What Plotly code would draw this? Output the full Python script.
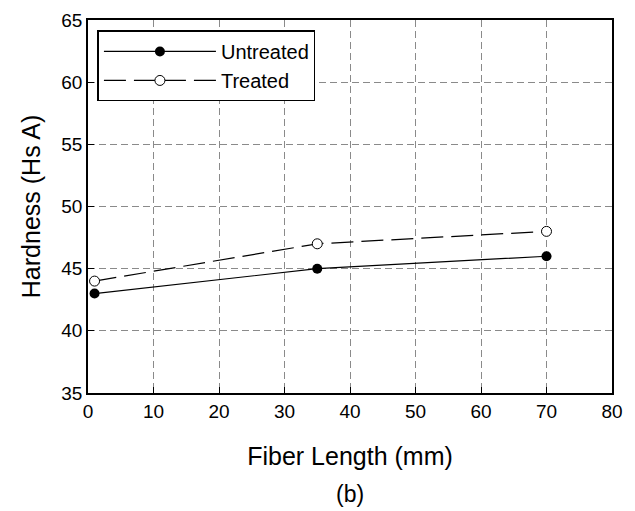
import plotly.graph_objects as go

fiber_length = [1, 35, 70]
untreated = [43, 45, 46]
treated = [44, 47, 48]
x_ticks = [0, 10, 20, 30, 40, 50, 60, 70, 80]
y_ticks = [35, 40, 45, 50, 55, 60, 65]

FONT = "Liberation Sans, Arial"

fig = go.Figure()
fig.add_trace(go.Scatter(
    x=fiber_length, y=untreated, name="Untreated", mode="lines+markers",
    line=dict(color="black", width=1.2),
    marker=dict(symbol="circle", size=10, color="black"),
))
fig.add_trace(go.Scatter(
    x=fiber_length, y=treated, name="Treated", mode="lines+markers",
    line=dict(color="black", width=1.2, dash="22px,8px"),
    marker=dict(symbol="circle", size=10, color="white", line=dict(color="black", width=1)),
))

axis_common = dict(
    showline=True, linecolor="black", linewidth=1.5, mirror=True,
    ticks="inside", ticklen=6, tickcolor="black",
    showgrid=True, gridcolor="#8a8a8a", griddash="7px,4px", gridwidth=1,
    zeroline=False, automargin=False,
    tickfont=dict(family=FONT, size=19, color="black"),
)
fig.update_xaxes(range=[0, 80], tickvals=x_ticks,
                 title=dict(text="Fiber Length (mm)", font=dict(family=FONT, size=25, color="black"), standoff=27),
                 **axis_common)
fig.update_yaxes(range=[35, 65], tickvals=y_ticks,
                 title=dict(text="Hardness (Hs A)", font=dict(family=FONT, size=25, color="black"), standoff=14),
                 **axis_common)

fig.add_annotation(text="(b)", xref="paper", yref="paper", x=0.5, y=-0.27,
                   showarrow=False, font=dict(family=FONT, size=23, color="black"),
                   yanchor="middle")

fig.update_layout(
    width=627, height=503,
    margin=dict(l=80, r=23, t=12, b=118),
    plot_bgcolor="white", paper_bgcolor="white",
    showlegend=True,
    legend=dict(x=0.018, y=0.972, xanchor="left", yanchor="top",
                bgcolor="white", bordercolor="black", borderwidth=1.5,
                itemwidth=112, tracegroupgap=0,
                font=dict(family=FONT, size=20, color="black")),
)
fig.write_html("out.html")
